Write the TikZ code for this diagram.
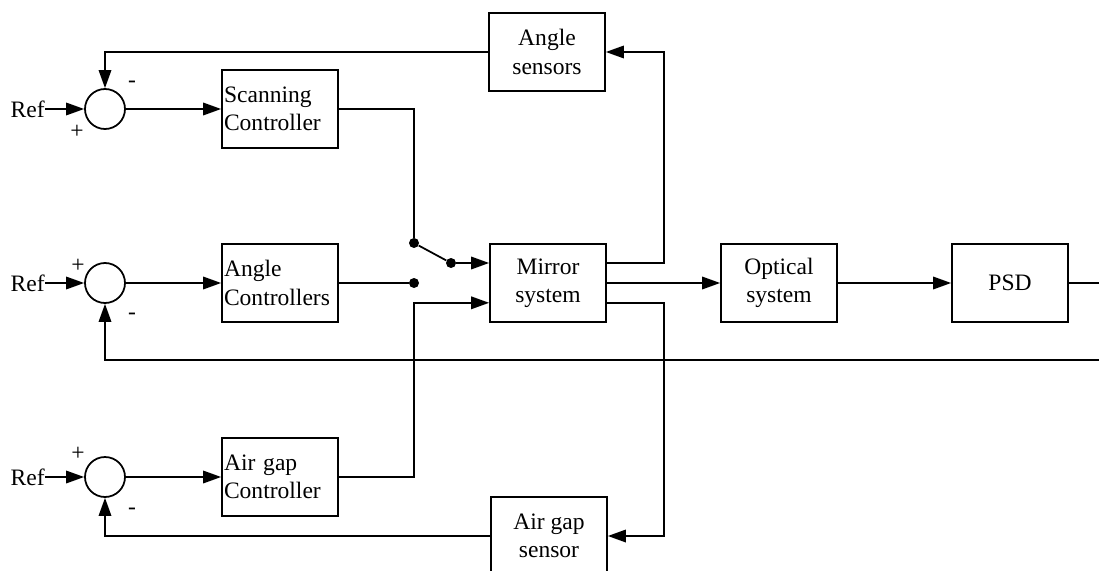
\documentclass[tikz,border=0pt]{standalone}
\usepackage{fontspec}
\setmainfont{Liberation Serif}
\usetikzlibrary{arrows.meta, calc}

\begin{document}
\begin{tikzpicture}[
    x=0.02cm, y=-0.02cm,
    font=\fontsize{13.4}{16}\selectfont,
    box/.style={draw, rectangle, line width=1pt, minimum width=2.32cm, minimum height=1.55cm, align=center, inner sep=0pt},
    ctrl/.style={box, align=left, text width=2.24cm},
    sum/.style={draw, circle, line width=1pt, minimum size=0.8cm, inner sep=0pt},
    dot/.style={circle, fill, minimum size=0.2cm, inner sep=0pt},
    sign/.style={inner sep=0pt},
    wire/.style={line width=1pt},
    arrow/.style={line width=1pt, -{Triangle[length=0.36cm, width=0.25cm]}}
]
\clip (0,0) rectangle (1099,571);

\node (ref1) [sign, anchor=east] at (45,109) {Ref};
\node (ref2) [sign, anchor=east] at (45,283) {Ref};
\node (ref3) [sign, anchor=east] at (45,477) {Ref};
\node (sum1) [sum] at (105,109) {};
\node (sum2) [sum] at (105,283) {};
\node (sum3) [sum] at (105,477) {};
\node (m1) [sign] at (132,84) {-};
\node (p1) [sign] at (77,132) {+};
\node (p2) [sign] at (78,266) {+};
\node (m2) [sign] at (132,316) {-};
\node (p3) [sign] at (78,454) {+};
\node (m3) [sign] at (132,511) {-};

\node (scan) [ctrl] at (280,109) {Scanning\\Controller};
\node (anglectrl) [ctrl] at (280,283) {Angle\\Controllers};
\node (gapctrl) [ctrl] at (280,477) {Air gap\\Controller};
\node (mirror) [box] at (548,283) {Mirror\\system};
\node (optics) [box] at (779,283) {Optical\\system};
\node (psd) [box] at (1010,283) {PSD};
\node (anglesens) [box] at (547,52) {Angle\\sensors};
\node (gapsens) [box] at (549,536) {Air gap\\sensor};

\node (sw1) [dot] at (414,243) {};
\node (sw2) [dot] at (451,263) {};
\node (sw3) [dot] at (414,283) {};

\coordinate (mtop) at ($(mirror.north east)!0.25!(mirror.south east)$);
\coordinate (mbot) at ($(mirror.north east)!0.75!(mirror.south east)$);
\coordinate (min) at ($(mirror.north west)!0.75!(mirror.south west)$);
\coordinate (psdout) at (1099,283);
\coordinate (fbend) at (1099,360);

\draw [arrow] (ref1) -- (sum1);
\draw [arrow] (ref2) -- (sum2);
\draw [arrow] (ref3) -- (sum3);
\draw [arrow] (sum1) -- (scan);
\draw [arrow] (sum2) -- (anglectrl);
\draw [arrow] (sum3) -- (gapctrl);

\draw [wire] (scan.east) -| (sw1);
\draw [wire] (sw1) -- (sw2);
\draw [arrow] (sw2) -- (sw2 -| mirror.west);
\draw [wire] (anglectrl.east) -- (sw3);
\draw [arrow] (gapctrl.east) -| (sw3 |- min) -- (min);

\draw [arrow] (mirror) -- (optics);
\draw [arrow] (optics) -- (psd);
\draw [wire] (psd.east) -- (psdout);

\draw [arrow] (mtop) -- ++(57,0) |- (anglesens.east);
\draw [arrow] (mbot) -- ++(57,0) |- (gapsens.east);
\draw [arrow] (anglesens.west) -| (sum1.north);
\draw [arrow] (gapsens.west) -| (sum3.south);
\draw [arrow] (fbend) -| (sum2.south);
\end{tikzpicture}
\end{document}
